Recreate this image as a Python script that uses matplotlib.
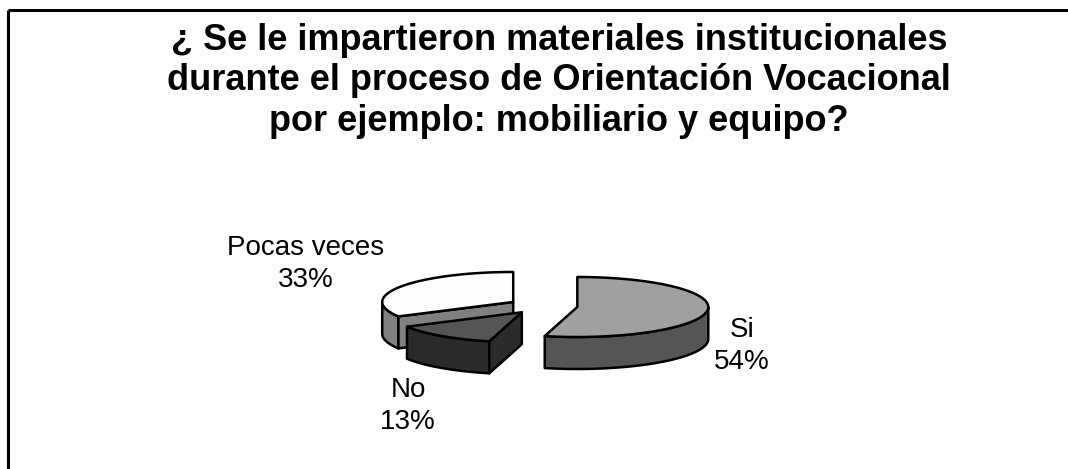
#!/usr/bin/env python
import matplotlib
matplotlib.use('Agg')
import matplotlib.pyplot as plt
from matplotlib.patches import Polygon
import numpy as np

title = "¿ Se le impartieron materiales institucionales\ndurante el proceso de Orientación Vocacional\npor ejemplo: mobiliario y equipo?"
categories = ['Si', 'No', 'Pocas veces']
percents = [54, 13, 33]
top_colors = ['#a0a0a0', '#555555', '#fdfdfd']
side_colors = ['#555555', '#2b2b2b', '#808080']
label_pos = [(742, 346), (408, 406), (306, 264)]

# pie geometry in pixels
cx, cy = 543, 306
rx, ry = 131, 30
depth = 32
explode = 0.264


def arc(x0, y0, a0, a1):
    t = np.radians(np.linspace(a0, a1, 80))
    return np.column_stack([x0 + rx * np.cos(t), y0 - ry * np.sin(t)])


def poly(ax, pts, color, z):
    ax.add_patch(Polygon(pts, closed=True, fc=color, ec='black', lw=1.8, joinstyle='round', zorder=z))


fig = plt.figure(figsize=(10.68, 4.69), dpi=100)
ax = fig.add_axes([0, 0, 1, 1])
ax.set_xlim(0, 1068)
ax.set_ylim(469, 0)
ax.axis('off')

# frame, only left and top are in the picture
ax.plot([8, 8], [469, 10], color='black', lw=2.2, solid_capstyle='butt')
ax.plot([8, 1068], [10, 10], color='black', lw=2.2, solid_capstyle='butt')

ax.text(559, 81, title, ha='center', va='center', fontsize=26, fontweight='bold',
        family='Liberation Sans', linespacing=1.2, color='black')

start = 90.0
down = np.array([0, depth])
zorders = {0: 2, 1: 4, 2: 1}
for i, p in enumerate(percents):
    end = start - p * 3.6
    mid = np.radians((start + end) / 2)
    x0 = cx + explode * rx * np.cos(mid)
    y0 = cy - explode * ry * np.sin(mid)
    z = zorders[i]
    apex = np.array([x0, y0])
    rim = arc(x0, y0, start, end)
    # outer wall, only the part facing the viewer
    vis = [a for a in np.linspace(start, end, 200) if np.sin(np.radians(a)) <= 0]
    if vis:
        wall = arc(x0, y0, vis[0], vis[-1])
        poly(ax, np.vstack([wall, (wall + down)[::-1]]), side_colors[i], z)
    # cut faces turned toward the viewer
    if categories[i] == 'No':
        poly(ax, np.vstack([apex, rim[0], rim[0] + down, apex + down]), side_colors[i], z)
    if categories[i] == 'Pocas veces':
        poly(ax, np.vstack([apex, rim[0], rim[0] + down, apex + down]), side_colors[i], z)
    poly(ax, np.vstack([apex, rim]), top_colors[i], z + 0.5)
    ax.text(label_pos[i][0], label_pos[i][1], '%s\n%d%%' % (categories[i], p), ha='center', va='center',
            fontsize=20, family='Liberation Sans', linespacing=1.32, color='black', zorder=6)
    start = end

fig.savefig('out.png', dpi=100, facecolor='white')
